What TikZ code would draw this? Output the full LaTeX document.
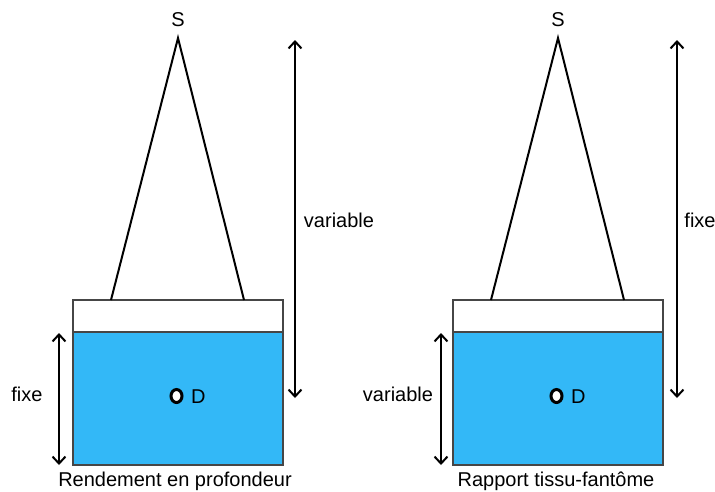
\documentclass[tikz,border=0pt]{standalone}
\usepackage{fontspec}
\setmainfont{Liberation Sans}
\usetikzlibrary{arrows.meta}
\definecolor{water}{RGB}{51,184,247}
\definecolor{edge}{RGB}{70,70,70}
\begin{document}
\begin{tikzpicture}[x=1pt,y=-1pt,
  lbl/.style={font=\fontsize{20}{24}\selectfont, inner sep=0pt},
  beam/.style={line width=2pt, line join=miter},
  dim/.style={line width=2pt, {Straight Barb[length=7pt,width=13pt,line width=2pt]}-{Straight Barb[length=7pt,width=13pt,line width=2pt]}},
  top/.style={draw=edge, line width=1.5pt, fill=white},
  phantom/.style={draw=edge, line width=1.5pt, fill=water},
  dose/.style={draw=black, fill=white, line width=3pt}]
\useasboundingbox (0,0) rectangle (715,491);
% ---------- left panel ----------
\draw[top] (73,300) rectangle (283,332);
\draw[phantom] (73,332) rectangle (283,465);
\coordinate (sL) at (178,38);
\coordinate (bL1) at (111,300);
\coordinate (bL2) at (244,300);
\draw[beam] (bL1) -- (sL) -- (bL2);
\node[lbl] (SL) at (178,20) {S};
\coordinate (dL) at (176.5,396);
\draw[dose] (dL) ellipse [x radius=5.5pt, y radius=6.5pt];
\node[lbl, anchor=west] (DL) at (191,397) {D};
\coordinate (aL1) at (295,40);
\coordinate (aL2) at (295,398);
\draw[dim] (aL1) -- (aL2);
\node[lbl] (varL) at (339,220) {variable};
\coordinate (fL1) at (59,333);
\coordinate (fL2) at (59,465);
\draw[dim] (fL1) -- (fL2);
\node[lbl] (fixL) at (27,394) {fixe};
\node[lbl] (capL) at (175,481) {Rendement en profondeur};
% ---------- right panel ----------
\draw[top] (453,300) rectangle (663,332);
\draw[phantom] (453,332) rectangle (663,465);
\coordinate (sR) at (558,38);
\coordinate (bR1) at (491,300);
\coordinate (bR2) at (624,300);
\draw[beam] (bR1) -- (sR) -- (bR2);
\node[lbl] (SR) at (558,20) {S};
\coordinate (dR) at (556.5,396);
\draw[dose] (dR) ellipse [x radius=5.5pt, y radius=6.5pt];
\node[lbl, anchor=west] (DR) at (571,397) {D};
\coordinate (aR1) at (677,40);
\coordinate (aR2) at (677,398);
\draw[dim] (aR1) -- (aR2);
\node[lbl] (fixR) at (700,220) {fixe};
\coordinate (fR1) at (441,333);
\coordinate (fR2) at (441,465);
\draw[dim] (fR1) -- (fR2);
\node[lbl] (varR) at (398,394) {variable};
\node[lbl] (capR) at (556,481) {Rapport tissu-fantôme};
\end{tikzpicture}
\end{document}
